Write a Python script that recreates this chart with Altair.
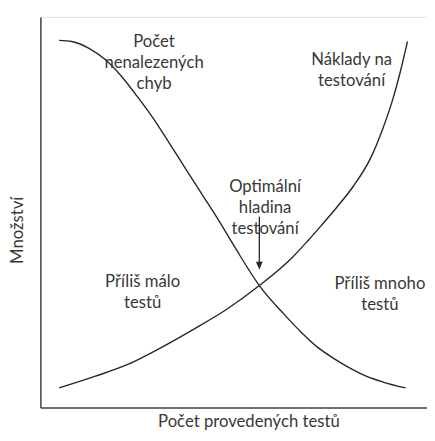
import altair as alt
import pandas as pd

# Curve: Počet nenalezených chyb (decreasing)
err_x = [4.9, 8.2, 12.6, 17.0, 21.0, 25.4, 29.7, 33.8, 38.2, 42.6, 46.7, 51.0, 57.2, 63.8, 68.2, 72.3, 76.7, 81.0, 85.1, 89.5, 95.4]
err_y = [94.0, 93.7, 92.0, 89.0, 85.0, 79.5, 73.7, 67.5, 60.7, 54.0, 47.7, 40.7, 31.2, 23.7, 19.2, 15.5, 12.5, 10.0, 8.0, 6.5, 5.0]

# Curve: Náklady na testování (increasing)
cost_x = [4.9, 14.4, 22.8, 31.3, 40.0, 48.5, 57.2, 65.6, 69.7, 73.3, 77.4, 81.8, 86.2, 89.5, 92.1, 94.1, 95.9]
cost_y = [5.0, 8.0, 11.0, 15.2, 20.0, 25.0, 31.2, 38.2, 42.5, 46.5, 51.2, 56.7, 63.7, 71.5, 79.0, 86.2, 93.7]

# Annotations
label_text = ["Počet\nnenalezených\nchyb", "Náklady na\ntestování", "Optimální\nhladina\ntestování",
              "Příliš málo\ntestů", "Příliš mnoho\ntestů"]
label_x = [29.7, 81.3, 58.7, 26.7, 88.7]
label_y = [93.5, 88.9, 56.5, 32.0, 31.5]

# Arrow to optimum
arrow_x = [57.2]
arrow_top = [48.8]
arrow_bottom = [36.3]

curves = pd.DataFrame({
    "x": err_x + cost_x,
    "y": err_y + cost_y,
    "series": ["chyby"] * len(err_x) + ["naklady"] * len(cost_x),
    "order": list(range(len(err_x))) + list(range(len(cost_x))),
})
labels = pd.DataFrame({"text": label_text, "x": label_x, "y": label_y})
arrow = pd.DataFrame({"x": arrow_x, "y": arrow_top, "y2": arrow_bottom})

xs = alt.Scale(domain=[0, 101])
ys = alt.Scale(domain=[0, 100])

FONT = "Lato"
INK = "#262626"
TXT = "#383838"

lines = alt.Chart(curves).mark_line(
    interpolate="monotone", color=INK, strokeWidth=1.4
).encode(
    x=alt.X("x:Q", scale=xs, axis=alt.Axis(
        title="Počet provedených testů", domain=True, ticks=False, labels=False, grid=False,
        titleX=212, titleY=19, titleBaseline="alphabetic", titleAlign="center",
        titleFont=FONT, titleFontSize=17, titleFontWeight="normal", titleColor=TXT,
        domainColor="#444", domainWidth=1.5)),
    y=alt.Y("y:Q", scale=ys, axis=alt.Axis(
        title="Množství", domain=True, ticks=False, labels=False, grid=False,
        titleX=-23, titleY=217, titleAngle=270, titleBaseline="middle", titleAlign="center",
        titleFont=FONT, titleFontSize=17, titleFontWeight="normal", titleColor=TXT,
        domainColor="#444", domainWidth=1.5)),
    detail="series:N",
    order="order:Q",
)

text = alt.Chart(labels).mark_text(
    font=FONT, fontSize=17, color=TXT, lineBreak="\n", lineHeight=21.5,
    align="center", baseline="middle"
).encode(x=alt.X("x:Q", scale=xs), y=alt.Y("y:Q", scale=ys), text="text:N")

shaft = alt.Chart(arrow).mark_rule(color=INK, strokeWidth=1.3).encode(
    x=alt.X("x:Q", scale=xs), y=alt.Y("y:Q", scale=ys), y2="y2:Q"
)

head = alt.Chart(arrow).mark_point(
    shape="M-1,-1.15L1,-1.15L0,1.15Z", filled=True, color=INK, size=49, opacity=1
).encode(x=alt.X("x:Q", scale=xs), y=alt.Y("y2:Q", scale=ys))

chart = alt.layer(lines, text, shaft, head).properties(
    width=394, height=398,
    autosize=alt.AutoSizeParams(type="none"),
    padding={"left": 33, "top": 5, "right": 0, "bottom": 22},
).configure_view(stroke=None).configure(background="white")

chart.save("out.html", embed_options={"renderer": "svg", "actions": False})
